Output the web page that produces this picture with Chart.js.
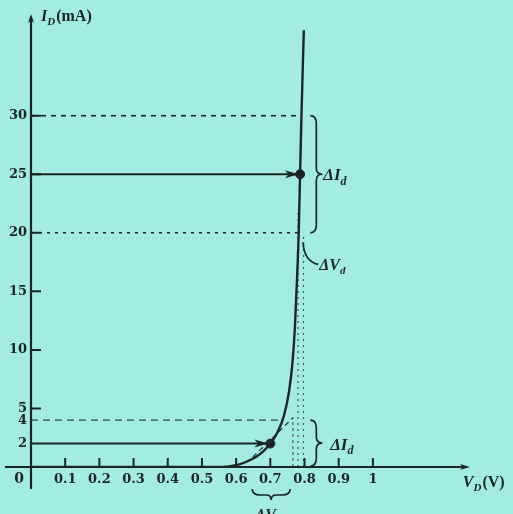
<!DOCTYPE html>
<html>
<head>
<meta charset="utf-8">
<script src="https://cdn.jsdelivr.net/npm/chart.js@4.4.1/dist/chart.umd.min.js"></script>
<style>
  html, body { margin: 0; padding: 0; background: #a2ece3; }
  #wrap { width: 513px; height: 514px; }
</style>
</head>
<body>
<div id="wrap"><canvas id="diodeChart" width="513" height="514"></canvas></div>
<script>
// diode forward characteristic
const vd = [0, 0.56, 0.6, 0.63, 0.66, 0.68, 0.7, 0.72, 0.74, 0.755, 0.765, 0.772, 0.778, 0.783, 0.787, 0.791, 0.798];
const id = [0, 0, 0.15, 0.45, 0.9, 1.35, 2.0, 2.9, 4.4, 6.5, 9, 12, 16, 20, 25, 30, 37.3];

const xTicks = [0.1, 0.2, 0.3, 0.4, 0.5, 0.6, 0.7, 0.8, 0.9, 1];
const yTicks = [2, 4, 5, 10, 15, 20, 25, 30];
const yTickMarks = [5, 10, 15, 20, 25, 30];

// operating points (V, I)
const qPoints = [[0.7, 2], [0.787, 25]];
// guide lines
const line30 = [[0, 30], [0.79, 30]];
const line20 = [[0, 20], [0.783, 20]];
const line4 = [[0, 4], [0.737, 4]];
const arrow25 = [[0, 25], [0.775, 25]];
const arrow2 = [[0, 2], [0.688, 2]];
const tangent = [[0.649, 0.85], [0.766, 4.2]];
const vLow = [[0.766, 0], [0.766, 4.2]];
const vMid = [[0.781, 0], [0.781, 22]];
const vHigh = [[0.797, 0], [0.797, 20]];

const ink = "#1d2427";
const tickFont = "'DejaVu Serif'";
const pts = (arr) => arr.map(([x, y]) => ({ x, y }));

function lineSet(arr, dash, color, width) {
  return {
    type: "line",
    data: pts(arr),
    borderColor: color || ink,
    borderWidth: width || 1.6,
    borderDash: dash || [],
    pointRadius: 0,
    fill: false
  };
}

function subText(ctx, x, y, main, sub, rest, size) {
  ctx.font = "italic bold " + size + "px 'Liberation Serif'";
  ctx.fillText(main, x, y);
  let w = ctx.measureText(main).width;
  ctx.font = "italic bold " + Math.round(size * 0.7) + "px 'Liberation Serif'";
  ctx.fillText(sub, x + w, y + size * 0.25);
  w += ctx.measureText(sub).width;
  if (rest) {
    ctx.font = "bold " + size + "px 'Liberation Serif'";
    ctx.fillText(rest, x + w + 1, y);
  }
}

function arrowHead(ctx, x, y, dx, dy, len, half) {
  const n = Math.hypot(dx, dy);
  const ux = dx / n, uy = dy / n;
  ctx.beginPath();
  ctx.moveTo(x, y);
  ctx.lineTo(x - ux * len - uy * half, y - uy * len + ux * half);
  ctx.lineTo(x - ux * len * 0.7, y - uy * len * 0.7);
  ctx.lineTo(x - ux * len + uy * half, y - uy * len - ux * half);
  ctx.closePath();
  ctx.fill();
}

// vertical brace from y1 to y2 at x, tip to the right
function vBrace(ctx, x, y1, y2, w) {
  const m = (y1 + y2) / 2;
  ctx.beginPath();
  ctx.moveTo(x, y1);
  ctx.quadraticCurveTo(x + w, y1, x + w, y1 + 8);
  ctx.lineTo(x + w, m - 6);
  ctx.quadraticCurveTo(x + w, m, x + w * 2, m);
  ctx.quadraticCurveTo(x + w, m, x + w, m + 6);
  ctx.lineTo(x + w, y2 - 8);
  ctx.quadraticCurveTo(x + w, y2, x, y2);
  ctx.stroke();
}

const decor = {
  id: "decor",
  afterDatasetsDraw(chart) {
    const { ctx, scales: { x, y } } = chart;
    const px = (v) => x.getPixelForValue(v);
    const py = (v) => y.getPixelForValue(v);
    const x0 = px(0), y0 = py(0);
    ctx.save();
    ctx.strokeStyle = ink;
    ctx.fillStyle = ink;

    // axes
    ctx.lineWidth = 2.2;
    ctx.beginPath();
    ctx.moveTo(x0, y0 + 22);
    ctx.lineTo(x0, chart.chartArea.top + 2);
    ctx.moveTo(5, y0);
    ctx.lineTo(chart.chartArea.right - 3, y0);
    ctx.stroke();
    arrowHead(ctx, x0, chart.chartArea.top - 1, 0, -1, 9, 3);
    arrowHead(ctx, chart.chartArea.right, y0, 1, 0, 10, 3);

    // tick marks
    ctx.lineWidth = 2;
    ctx.beginPath();
    xTicks.forEach((v) => { ctx.moveTo(px(v), y0); ctx.lineTo(px(v), y0 - 9); });
    yTickMarks.forEach((v) => { ctx.moveTo(x0, py(v)); ctx.lineTo(x0 + 10, py(v)); });
    ctx.stroke();

    // arrowheads on the guide arrows
    arrowHead(ctx, px(0.783), py(25), 1, 0, 14, 4);
    arrowHead(ctx, px(0.694), py(2), 1, 0, 14, 4);

    // braces
    ctx.lineWidth = 1.7;
    vBrace(ctx, px(0.817), py(30), py(20), 6);
    vBrace(ctx, px(0.817), py(4), py(0) - 1, 6);

    // bottom brace under 0.66..0.76
    const bx1 = px(0.647), bx2 = px(0.758), by = y0 + 22, bm = (bx1 + bx2) / 2;
    ctx.beginPath();
    ctx.moveTo(bx1, by);
    ctx.quadraticCurveTo(bx1, by + 6, bx1 + 8, by + 6);
    ctx.lineTo(bm - 5, by + 6);
    ctx.quadraticCurveTo(bm, by + 6, bm, by + 11);
    ctx.quadraticCurveTo(bm, by + 6, bm + 5, by + 6);
    ctx.lineTo(bx2 - 8, by + 6);
    ctx.quadraticCurveTo(bx2, by + 6, bx2, by);
    ctx.stroke();

    // leader for upper ΔV_d
    ctx.beginPath();
    ctx.moveTo(px(0.796), py(19.2));
    ctx.quadraticCurveTo(px(0.798), py(17.6), px(0.84), py(17.3));
    ctx.stroke();

    // labels
    ctx.textBaseline = "alphabetic";
    ctx.textAlign = "left";
    subText(ctx, px(0.855), py(25) + 6, "\u0394I", "d", "", 17);
    subText(ctx, px(0.875), py(2) + 6, "\u0394I", "d", "", 17);
    subText(ctx, px(0.843), py(17.3) + 6, "\u0394V", "d", "", 16);
    subText(ctx, bm - 16, by + 31, "\u0394V", "d", "", 16);
    subText(ctx, x0 + 10, 21, "I", "D", "(mA)", 16);
    subText(ctx, px(1.263), y0 + 20, "V", "D", "(V)", 16);

    ctx.font = "bold 14px " + tickFont;
    ctx.textAlign = "center";
    ctx.fillText("0", x0 - 12, y0 + 16);
    ctx.restore();
  }
};

new Chart(document.getElementById("diodeChart"), {
  data: {
    datasets: [
      {
        type: "line",
        data: vd.map((v, i) => ({ x: v, y: id[i] })),
        borderColor: ink,
        borderWidth: 2.4,
        pointRadius: 0,
        cubicInterpolationMode: "monotone",
        fill: false
      },
      lineSet(line30, [5, 5]),
      lineSet(line20, [3, 5]),
      lineSet(line4, [7, 5], "#37474a", 1.4),
      lineSet(arrow25, [], ink, 2),
      lineSet(arrow2, [], ink, 2),
      lineSet(tangent, [5, 4], "#2f3c3e", 1.4),
      lineSet(vLow, [3, 3], "#4a5759", 1.2),
      lineSet(vMid, [2, 4], "#4a5759", 1.2),
      lineSet(vHigh, [2, 4], "#4a5759", 1.2),
      {
        type: "scatter",
        data: pts(qPoints),
        backgroundColor: ink,
        borderColor: ink,
        pointRadius: 4.5
      }
    ]
  },
  options: {
    responsive: false,
    animation: false,
    events: [],
    layout: { padding: { top: 15, right: 43, left: 0, bottom: 0 } },
    plugins: { legend: { display: false }, tooltip: { enabled: false } },
    scales: {
      x: {
        type: "linear",
        min: 0,
        max: 1.284,
        afterFit: (s) => { s.height = 47; },
        afterBuildTicks: (s) => { s.ticks = xTicks.map((v) => ({ value: v })); },
        grid: { display: false, drawTicks: false },
        border: { display: false },
        ticks: {
          padding: 5,
          color: ink,
          font: { family: tickFont, size: 13, weight: "bold" },
          callback: (v) => String(v)
        }
      },
      y: {
        type: "linear",
        min: 0,
        max: 38.6,
        afterFit: (s) => { s.width = 31; },
        afterBuildTicks: (s) => { s.ticks = yTicks.map((v) => ({ value: v })); },
        grid: { display: false, drawTicks: false },
        border: { display: false },
        ticks: {
          padding: 4,
          color: ink,
          font: { family: tickFont, size: 13, weight: "bold" },
          callback: (v) => String(v)
        }
      }
    }
  },
  plugins: [decor]
});
</script>
</body>
</html>
